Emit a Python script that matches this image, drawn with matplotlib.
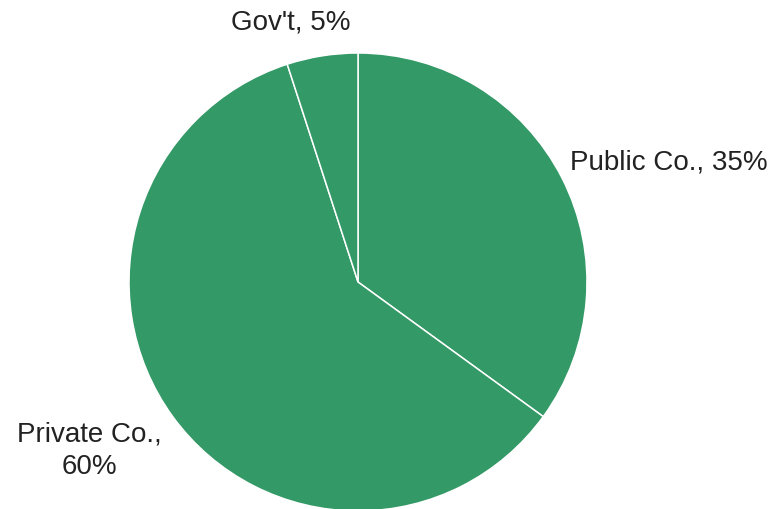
import matplotlib.pyplot as plt

# ownership share by sector
sectors = ["Public Co.", "Private Co.", "Gov't"]
shares = [35, 60, 5]
labels = ["Public Co., 35%", "Private Co.,\n60%", "Gov't, 5%"]

green = "#339966"

W, H = 774, 509
fig = plt.figure(figsize=(W / 100, H / 100), dpi=100)
ax = fig.add_axes([0, 0, 1, 1])

ax.pie(shares, colors=[green] * len(shares), startangle=90, counterclock=False,
       center=(358, H - 282), radius=229,
       wedgeprops={"edgecolor": "white", "linewidth": 1.1})
# pie() resets the limits, so set them afterwards (1 unit = 1 pixel)
ax.set_xlim(0, W)
ax.set_ylim(0, H)
ax.set_aspect("equal")
ax.axis("off")

font = {"family": ["Liberation Sans", "DejaVu Sans"], "size": 20, "color": "#222222"}
ax.text(570, H - 162, labels[0], ha="left", va="center", **font)
ax.text(89, H - 451, labels[1], ha="center", va="center", linespacing=1.35, **font)
ax.text(291, H - 22, labels[2], ha="center", va="center", **font)

fig.savefig("out.png", dpi=100)
